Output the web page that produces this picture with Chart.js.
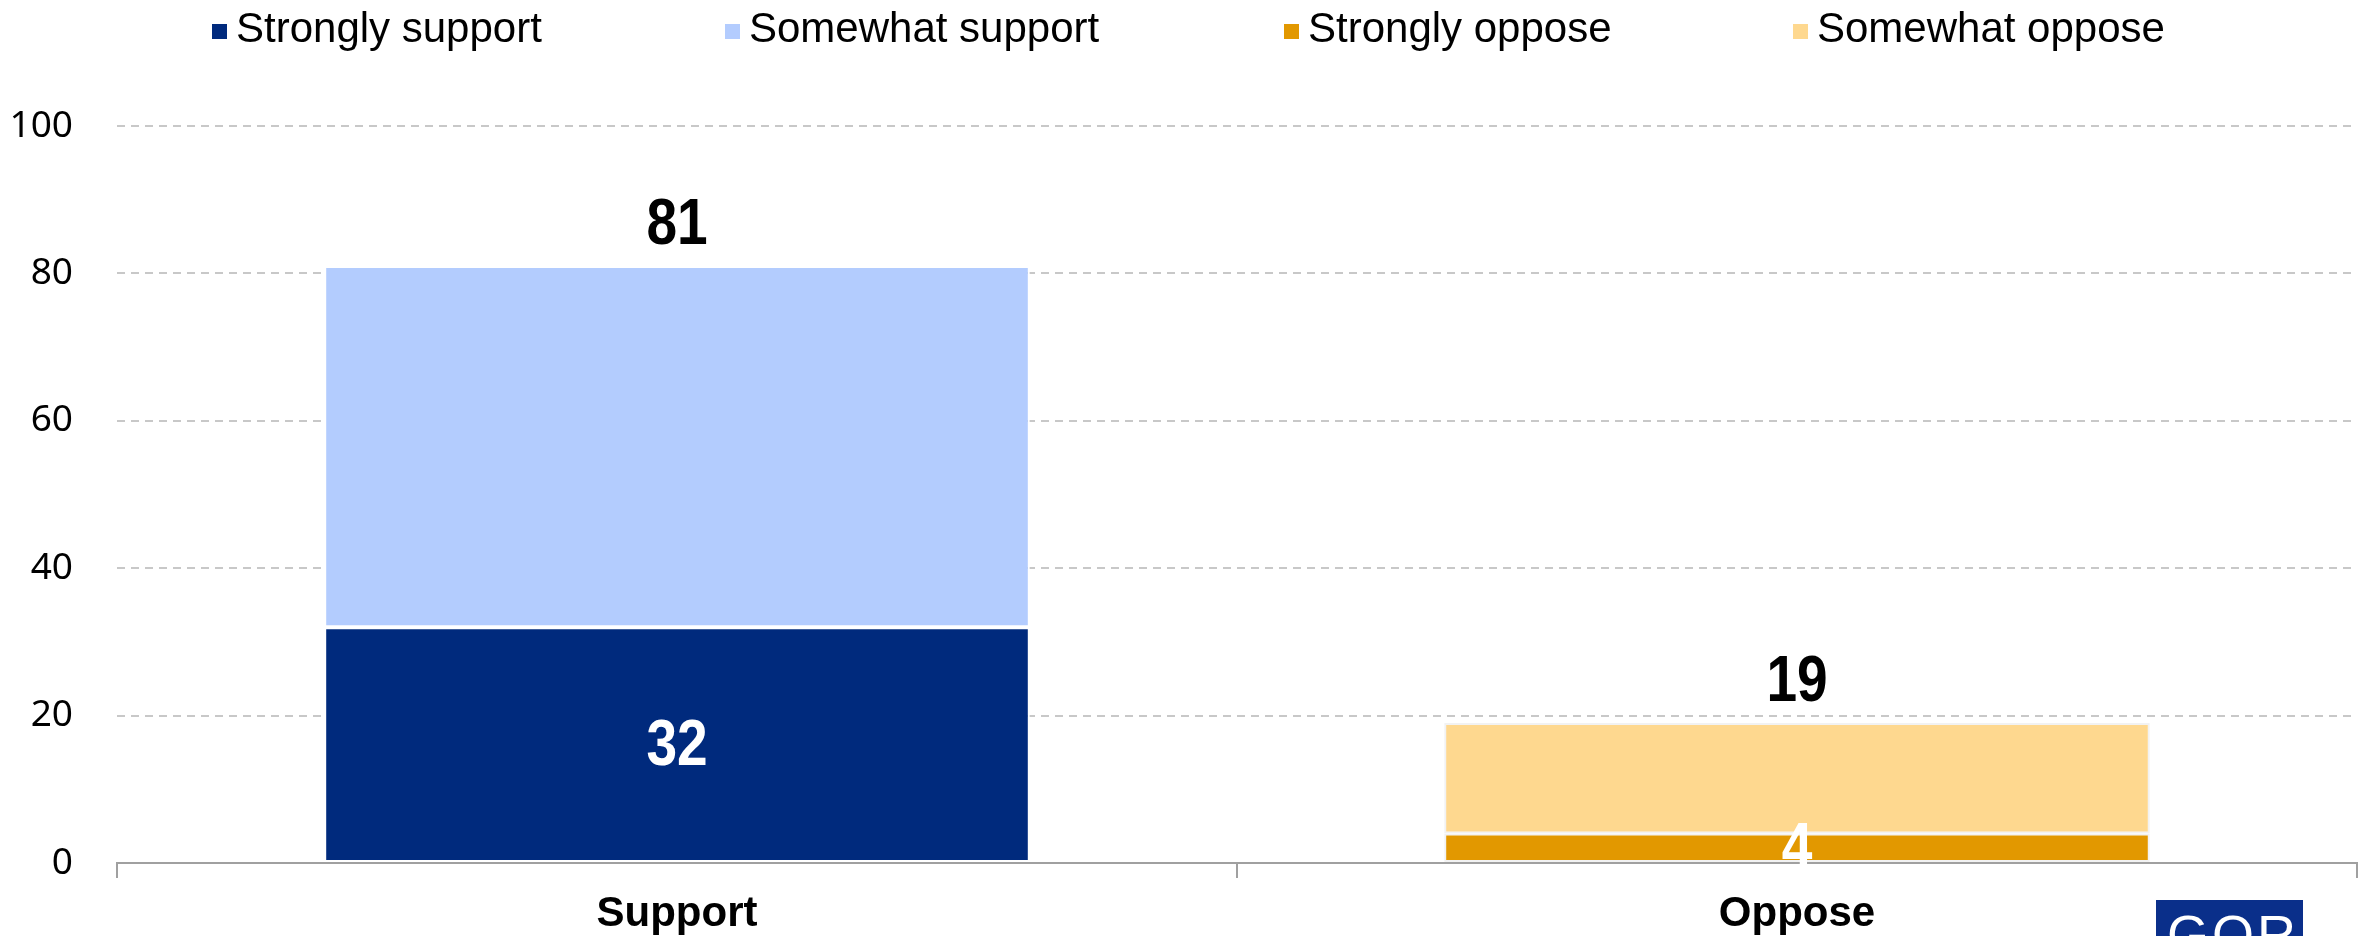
<!DOCTYPE html>
<html>
<head>
<meta charset="utf-8">
<script src="https://cdn.jsdelivr.net/npm/chart.js@4.4.1/dist/chart.umd.min.js"></script>
<style>
  html, body { margin: 0; padding: 0; background: #fff; overflow: hidden; }
  #wrap { position: relative; width: 2377px; height: 936px; }
  #chart { position: absolute; left: 0; top: 0; }
  #legend { position: absolute; left: 0; top: 0; width: 2377px; height: 60px; font-family: "Liberation Sans", Arial, sans-serif; font-size: 42px; color: #000; }
  #legend .item { position: absolute; top: 4px; white-space: nowrap; line-height: 48px; }
  #legend .box { display: inline-block; width: 15px; height: 15px; margin-right: 9px; vertical-align: 3px; }
  #logo { position: absolute; left: 2156px; top: 900px; width: 147px; height: 60px; background: #0a2f8a; color: #fff; font-family: "Liberation Sans", Arial, sans-serif; font-size: 54px; line-height: 68px; letter-spacing: 3px; padding-left: 11px; box-sizing: border-box; overflow: hidden; }
</style>
</head>
<body>
<div id="wrap">
  <canvas id="chart" width="2377" height="936"></canvas>
  <div id="legend"></div>
  <div id="logo">GOR</div>
</div>
<script>
const categories = ["Support", "Oppose"];
const seriesNames = ["Strongly support", "Somewhat support", "Strongly oppose", "Somewhat oppose"];
const stronglySupport = [32, null];
const somewhatSupport = [49, null];
const stronglyOppose = [null, 4];
const somewhatOppose = [null, 15];
const yTicks = [0, 20, 40, 60, 80, 100];

const colors = ["#002A7D", "#B3CCFE", "#E29800", "#FED88F"];
const borders = ["#FFFFFF", "#FFFFFF", "#F2F2F2", "#F2F2F2"];
const legendLeft = [212, 725, 1284, 1793];

const seriesValues = [stronglySupport, somewhatSupport, stronglyOppose, somewhatOppose];

// slightly condensed bold text, like the original labels
function drawLabel(ctx, text, x, y, color) {
  ctx.save();
  ctx.translate(x, y);
  ctx.scale(0.86, 1);
  ctx.fillStyle = color;
  ctx.fillText(text, 0, 0);
  ctx.restore();
}

// labels: strongly values inside (white), totals above stack
const barLabels = {
  id: "barLabels",
  afterDatasetsDraw(chart) {
    const ctx = chart.ctx;
    ctx.save();
    ctx.font = "bold 64px 'Liberation Sans', Arial, sans-serif";
    ctx.textAlign = "center";
    ctx.textBaseline = "middle";
    categories.forEach((cat, i) => {
      let topY = null;
      let total = 0;
      chart.data.datasets.forEach((ds, d) => {
        const v = ds.data[i];
        if (v == null) return;
        const el = chart.getDatasetMeta(d).data[i];
        total += v;
        if (topY === null || el.y < topY) topY = el.y;
        if (d === 0 || d === 2) {
          drawLabel(ctx, String(v), el.x, (el.y + el.base) / 2 + 3, "#FFFFFF");
        }
      });
      const x = chart.scales.x.getPixelForValue(i);
      drawLabel(ctx, String(total), x, topY - 40, "#000000");
    });
    ctx.restore();
  },
};

const chart = new Chart(document.getElementById("chart").getContext("2d"), {
  type: "bar",
  data: {
    labels: categories,
    datasets: seriesNames.map((name, k) => ({
      label: name,
      data: seriesValues[k],
      backgroundColor: colors[k],
      borderColor: borders[k],
      borderWidth: 2,
      borderSkipped: false,
      categoryPercentage: 1,
      barPercentage: 0.63,
    })),
  },
  options: {
    responsive: false,
    animation: false,
    layout: { padding: { top: 126, right: 20, bottom: 0, left: 0 } },
    plugins: {
      legend: { display: false },
      tooltip: { enabled: false },
    },
    scales: {
      x: {
        stacked: true,
        grid: {
          offset: true,
          drawOnChartArea: false,
          tickLength: 15,
          color: "#A0A0A0",
          lineWidth: 2,
        },
        border: { color: "#A0A0A0", width: 2 },
        ticks: {
          color: "#000",
          padding: 11,
          font: { family: "'Liberation Sans', Arial, sans-serif", size: 42, weight: "bold" },
        },
        afterFit: (s) => { s.height = 73; },
      },
      y: {
        stacked: true,
        min: 0,
        max: 100,
        afterBuildTicks: (s) => { s.ticks = yTicks.map((v) => ({ value: v })); },
        grid: {
          drawTicks: false,
          color: "#C8C8C8",
          lineWidth: 2,
        },
        border: { display: false, dash: [8, 6] },
        ticks: {
          color: "#000",
          padding: 44,
          font: { family: "'Noto Sans', sans-serif", size: 37 },
        },
        afterFit: (s) => { s.width = 117; },
      },
    },
  },
  plugins: [barLabels],
});

// html legend built from the datasets
const legend = document.getElementById("legend");
chart.data.datasets.forEach((ds, k) => {
  const item = document.createElement("div");
  item.className = "item";
  item.style.left = legendLeft[k] + "px";
  item.innerHTML = `<span class="box" style="background:${ds.backgroundColor}"></span>${ds.label}`;
  legend.appendChild(item);
});
</script>
</body>
</html>
